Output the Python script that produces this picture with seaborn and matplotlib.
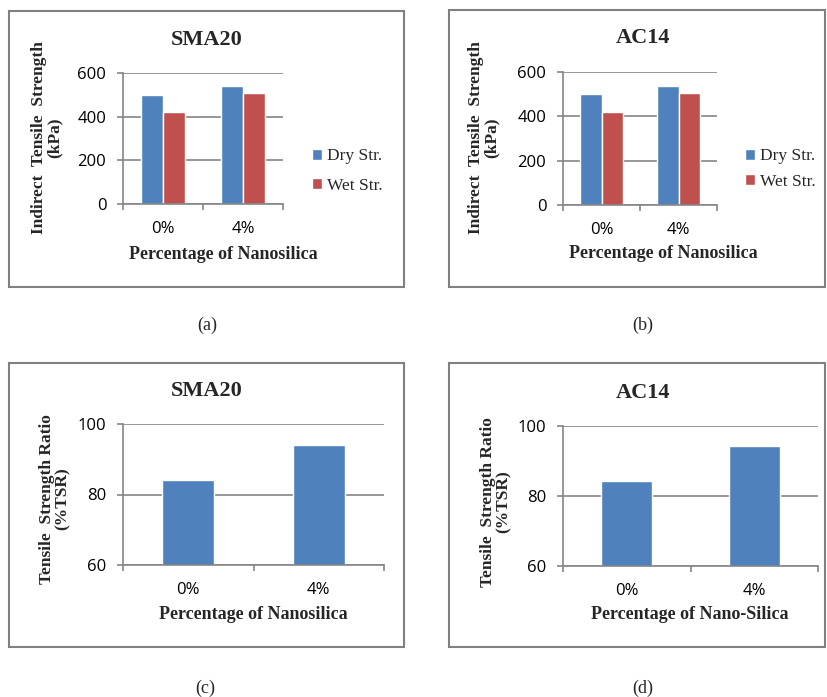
import matplotlib
matplotlib.use("Agg")
import matplotlib.pyplot as plt
from matplotlib.patches import Rectangle
import pandas as pd
import seaborn as sns

W, H = 827, 697

categories = ["0%", "4%"]
series_names = ["Dry Str.", "Wet Str."]
sma20_dry = [500, 540]
sma20_wet = [420, 507]
ac14_dry = [500, 535]
ac14_wet = [420, 504]
sma20_tsr = [84, 94]
ac14_tsr = [84.3, 94.3]

BLUE = "#4F81BD"
RED = "#C0504D"
GRID = "#858585"
FRAME = "#808080"
SERIF = "Liberation Serif"
SANS = "Open Sans"

sns.set_theme(style="white")
plt.rcParams["font.family"] = [SERIF, "DejaVu Serif"]


def fx(x):
    return x / W


def fy(y):
    return 1 - y / H


def add_axes_px(fig, left, top, right, bottom):
    return fig.add_axes([fx(left), fy(bottom), (right - left) / W, (bottom - top) / H])


def style_axes(ax, ylim, yticks):
    ax.set_xlim(-0.5, 1.5)
    ax.set_ylim(*ylim)
    ax.set_yticks(yticks)
    ax.grid(axis="y", color=GRID, linewidth=1.2)
    ax.grid(axis="x", visible=False)
    ax.set_axisbelow(True)
    for side in ["top", "right"]:
        ax.spines[side].set_visible(False)
    for side in ["left", "bottom"]:
        ax.spines[side].set_color(GRID)
        ax.spines[side].set_linewidth(1.2)
    ax.tick_params(axis="y", left=True, length=4, width=1.2, color=GRID, pad=8, labelsize=12)
    ax.tick_params(axis="x", which="major", length=0, pad=12, labelsize=12)
    ax.set_xticks([-0.5, 0.5, 1.5], minor=True)
    ax.tick_params(axis="x", which="minor", bottom=True, length=4, width=1.2, color=GRID, direction="out")
    for lbl in ax.get_xticklabels() + ax.get_yticklabels():
        lbl.set_fontfamily(SANS)
        lbl.set_color("#000000")


def decorate(fig, ax, spec):
    box = spec["box"]
    fig.patches.append(Rectangle((fx(box[0]), fy(box[3])), (box[2] - box[0]) / W, (box[3] - box[1]) / H,
                                 transform=fig.transFigure, fill=False, edgecolor=FRAME, linewidth=1.5))
    fig.text(fx(spec["title_xy"][0]), fy(spec["title_xy"][1]), spec["title"], ha="center", va="baseline",
             fontsize=16, fontweight="bold")
    ax.set_ylabel(spec["ylabel"], fontsize=12.5, fontweight="bold", linespacing=1.0)
    ax.yaxis.set_label_coords(fx(spec["ylabel_x"]), fy(spec["ylabel_y"]), transform=fig.transFigure)
    ax.set_xlabel(spec["xlabel"], fontsize=13, fontweight="bold")
    ax.xaxis.set_label_coords(fx(spec["xlabel_xy"][0]), fy(spec["xlabel_xy"][1]), transform=fig.transFigure)
    fig.text(fx(spec["tag_xy"][0]), fy(spec["tag_xy"][1]), spec["tag"], ha="center", va="center", fontsize=13)


fig = plt.figure(figsize=(W / 100, H / 100), dpi=100)

strength_panels = [
    dict(dry=sma20_dry, wet=sma20_wet, axes=(123, 73, 283, 204), box=(9, 11, 404, 287),
         title="SMA20", title_xy=(207, 45), ylabel="Indirect  Tensile  Strength\n(kPa)", ylabel_x=63, ylabel_y=138,
         xlabel="Percentage of Nanosilica", xlabel_xy=(223, 246), tag="(a)", tag_xy=(207, 325),
         legend_xy=(312, 171), legend_spacing=0.75),
    dict(dry=ac14_dry, wet=ac14_wet, axes=(563, 72, 717, 205), box=(449, 10, 825, 287),
         title="AC14", title_xy=(643, 43), ylabel="Indirect  Tensile  Strength\n(kPa)", ylabel_x=500, ylabel_y=138,
         xlabel="Percentage of Nanosilica", xlabel_xy=(663, 245), tag="(b)", tag_xy=(643, 325),
         legend_xy=(745, 169), legend_spacing=0.55),
]

for spec in strength_panels:
    ax = add_axes_px(fig, *spec["axes"])
    df = pd.DataFrame({
        "pct": categories * 2,
        "series": [series_names[0]] * 2 + [series_names[1]] * 2,
        "value": spec["dry"] + spec["wet"],
    })
    sns.barplot(data=df, x="pct", y="value", hue="series", palette=[BLUE, RED], width=0.56, gap=0,
                saturation=1, ax=ax)
    style_axes(ax, (0, 600), [0, 200, 400, 600])
    decorate(fig, ax, spec)
    ax.legend(loc="center left", bbox_to_anchor=(fx(spec["legend_xy"][0]), fy(spec["legend_xy"][1])),
              bbox_transform=fig.transFigure, frameon=False, fontsize=12.5, handlelength=0.6,
              handleheight=0.6, handletextpad=0.25, labelspacing=spec["legend_spacing"], borderpad=0,
              borderaxespad=0)

ratio_panels = [
    dict(values=sma20_tsr, axes=(123, 424, 384, 565), box=(9, 363, 404, 647),
         title="SMA20", title_xy=(207, 396), ylabel="Tensile  Strength Ratio\n(%TSR)", ylabel_x=71, ylabel_y=499,
         xlabel="Percentage of Nanosilica", xlabel_xy=(253, 606), tag="(c)", tag_xy=(205, 688)),
    dict(values=ac14_tsr, axes=(563, 426, 818, 566), box=(449, 363, 825, 647),
         title="AC14", title_xy=(643, 398), ylabel="Tensile  Strength Ratio\n(%TSR)", ylabel_x=512, ylabel_y=502,
         xlabel="Percentage of Nano-Silica", xlabel_xy=(690, 606), tag="(d)", tag_xy=(643, 688)),
]

for spec in ratio_panels:
    ax = add_axes_px(fig, *spec["axes"])
    sns.barplot(x=categories, y=spec["values"], color=BLUE, saturation=1, width=0.4, ax=ax)
    style_axes(ax, (60, 100), [60, 80, 100])
    decorate(fig, ax, spec)

fig.savefig("out.png", dpi=100, facecolor="white")
